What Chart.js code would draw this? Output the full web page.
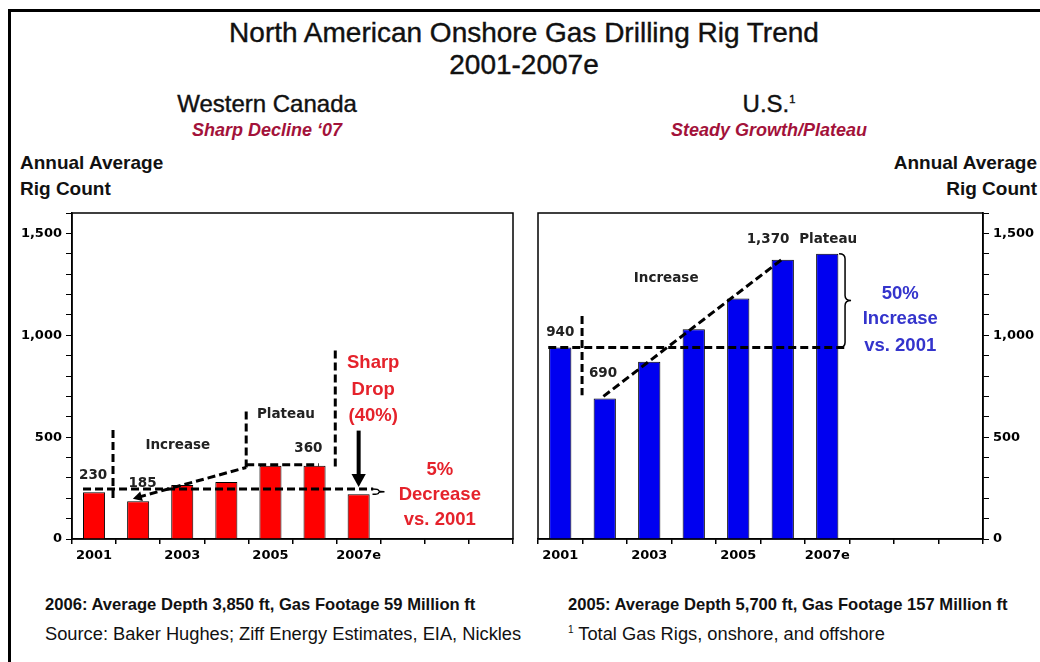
<!DOCTYPE html>
<html>
<head>
<meta charset="utf-8">
<script src="https://cdn.jsdelivr.net/npm/chart.js@4.4.0/dist/chart.umd.min.js"></script>
<style>
body { margin:0; background:#fff; width:1040px; height:662px; overflow:hidden; position:relative; font-family:"Liberation Sans", Arial, sans-serif; }
#frame { position:absolute; left:8px; top:9px; width:1040px; height:662px; border-left:3px solid #000; border-top:3px solid #000; box-shadow:-1px -1px 0 #999 inset; }
.t { position:absolute; white-space:nowrap; line-height:1; color:#111; }
.c { transform:translateX(-50%); }
.r { transform:translateX(-100%); }
.head { -webkit-text-stroke:0.4px #111; }
.sub { color:#a3123a; font-style:italic; font-weight:bold; font-size:18px; }
.axisname { font-weight:bold; font-size:19px; }
.foot { color:#111; }
#wrapL { position:absolute; left:0; top:200px; width:520px; height:380px; }
#wrapR { position:absolute; left:520px; top:200px; width:520px; height:380px; }
</style>
</head>
<body>
<div id="frame"></div>

<div class="t c head" style="left:524px;top:19px;font-size:28px;">North American Onshore Gas Drilling Rig Trend</div>
<div class="t c head" style="left:524px;top:51px;font-size:28px;">2001-2007e</div>

<div class="t c head" style="left:267px;top:92px;font-size:24px;">Western Canada</div>
<div class="t c sub" style="left:267px;top:121px;">Sharp Decline ‘07</div>
<div class="t c head" style="left:769px;top:92px;font-size:24px;">U.S.<sup style="font-size:11px">1</sup></div>
<div class="t c sub" style="left:769px;top:121px;">Steady Growth/Plateau</div>

<div class="t axisname" style="left:20px;top:153px;">Annual Average</div>
<div class="t axisname" style="left:20px;top:179px;">Rig Count</div>
<div class="t r axisname" style="left:1037px;top:153px;">Annual Average</div>
<div class="t r axisname" style="left:1037px;top:179px;">Rig Count</div>

<div id="wrapL"><canvas id="canadaChart" width="520" height="380"></canvas></div>
<div id="wrapR"><canvas id="usChart" width="520" height="380"></canvas></div>

<div class="t foot" style="left:45px;top:597px;font-size:16.6px;font-weight:bold;">2006: Average Depth 3,850 ft, Gas Footage 59 Million ft</div>
<div class="t foot" style="left:45px;top:625px;font-size:18.3px;">Source: Baker Hughes; Ziff Energy Estimates, EIA, Nickles</div>
<div class="t foot" style="left:568px;top:597px;font-size:16.6px;font-weight:bold;">2005: Average Depth 5,700 ft, Gas Footage 157 Million ft</div>
<div class="t foot" style="left:568px;top:625px;font-size:18.3px;"><sup style="font-size:10px">1</sup> Total Gas Rigs, onshore, and offshore</div>

<script>
// categories: 10 slots on the axis, only 7 are used
var years = ['2001', '2002', '2003', '2004', '2005', '2006', '2007e', '', '', ''];
var shownYears = ['2001', '2003', '2005', '2007e'];
var canadaRigs = [230, 185, 265, 280, 360, 360, 220];
var usRigs = [940, 690, 870, 1030, 1180, 1370, 1400];
var yTicks = [0, 500, 1000, 1500];

var tickFont = { family: 'DejaVu Sans', weight: 'bold', size: 13 };

function drawLine(ctx, pts, dashed, width) {
    ctx.save();
    ctx.strokeStyle = '#000';
    ctx.lineWidth = width;
    ctx.setLineDash(dashed ? [8, 4] : []);
    ctx.beginPath();
    ctx.moveTo(pts[0][0], pts[0][1]);
    for (var i = 1; i < pts.length; i++) ctx.lineTo(pts[i][0], pts[i][1]);
    ctx.stroke();
    ctx.restore();
}

function arrowHead(ctx, x, y, angle, size) {
    ctx.save();
    ctx.fillStyle = '#000';
    ctx.translate(x, y);
    ctx.rotate(angle);
    ctx.beginPath();
    ctx.moveTo(0, 0);
    ctx.lineTo(-size, -size * 0.55);
    ctx.lineTo(-size, size * 0.55);
    ctx.closePath();
    ctx.fill();
    ctx.restore();
}

function brace(ctx, x, yTop, yBot, w) {
    var mid = (yTop + yBot) / 2;
    var r = Math.min(5, (yBot - yTop) / 4);
    ctx.save();
    ctx.strokeStyle = '#000';
    ctx.lineWidth = 1.5;
    ctx.beginPath();
    ctx.moveTo(x - w / 2, yTop);
    ctx.quadraticCurveTo(x, yTop, x, yTop + r);
    ctx.lineTo(x, mid - r);
    ctx.quadraticCurveTo(x, mid, x + w / 2, mid);
    ctx.quadraticCurveTo(x, mid, x, mid + r);
    ctx.lineTo(x, yBot - r);
    ctx.quadraticCurveTo(x, yBot, x - w / 2, yBot);
    ctx.stroke();
    ctx.restore();
}

function label(ctx, text, x, y, font, color) {
    ctx.save();
    ctx.font = font;
    ctx.fillStyle = color;
    ctx.textAlign = 'center';
    ctx.textBaseline = 'middle';
    ctx.fillText(text, x, y);
    ctx.restore();
}

var numFont = 'bold 13.5px "DejaVu Sans"';
var noteFont = 'bold 13.5px "DejaVu Sans"';
var bigFont = 'bold 18.5px "Liberation Sans"';

// box around the plot area
var boxPlugin = {
    id: 'box',
    beforeDraw: function(chart) {
        var a = chart.chartArea, ctx = chart.ctx;
        ctx.save();
        ctx.strokeStyle = '#000';
        ctx.lineWidth = 1.5;
        ctx.strokeRect(a.left, a.top, a.right - a.left, a.bottom - a.top);
        ctx.restore();
    }
};

var canadaNotes = {
    id: 'canadaNotes',
    afterDatasetsDraw: function(chart) {
        var ctx = chart.ctx;
        var X = function(i) { return chart.scales.x.getPixelForValue(i); };
        var Y = function(v) { return chart.scales.y.getPixelForValue(v); };
        drawLine(ctx, [[X(-0.25), Y(245)], [X(6.33), Y(245)]], true, 3);
        drawLine(ctx, [[X(0.43), Y(535)], [X(0.43), Y(200)]], true, 3);
        drawLine(ctx, [[X(1.0), Y(205)], [X(3.45), Y(351)]], true, 3);
        arrowHead(ctx, X(0.88), Y(198), Math.atan2(Y(198) - Y(351), X(0.88) - X(3.45)), 9);
        drawLine(ctx, [[X(3.45), Y(351)], [X(3.45), Y(630)]], true, 3);
        drawLine(ctx, [[X(3.45), Y(365)], [X(5.1), Y(365)]], true, 3);
        drawLine(ctx, [[X(5.47), Y(925)], [X(5.47), Y(351)]], true, 3);
        drawLine(ctx, [[X(6.0), Y(532)], [X(6.0), Y(285)]], false, 4);
        arrowHead(ctx, X(6.0), Y(255), Math.PI / 2, 13);
        brace(ctx, X(6.45), Y(245), Y(220), 12);

        label(ctx, canadaRigs[0], X(-0.02), Y(312), numFont, '#222');
        label(ctx, canadaRigs[1], X(1.1), Y(273), numFont, '#222');
        label(ctx, 'Increase', X(1.9), Y(459), noteFont, '#222');
        label(ctx, 'Plateau', X(4.35), Y(610), noteFont, '#222');
        label(ctx, canadaRigs[5], X(4.86), Y(444), numFont, '#222');
        label(ctx, 'Sharp', X(6.33), Y(863), bigFont, '#e5222b');
        label(ctx, 'Drop', X(6.33), Y(730), bigFont, '#e5222b');
        label(ctx, '(40%)', X(6.33), Y(605), bigFont, '#e5222b');
        label(ctx, '5%', X(7.84), Y(337), bigFont, '#e5222b');
        label(ctx, 'Decrease', X(7.84), Y(215), bigFont, '#e5222b');
        label(ctx, 'vs. 2001', X(7.84), Y(93), bigFont, '#e5222b');
    }
};

var usNotes = {
    id: 'usNotes',
    afterDatasetsDraw: function(chart) {
        var ctx = chart.ctx;
        var X = function(i) { return chart.scales.x.getPixelForValue(i); };
        var Y = function(v) { return chart.scales.y.getPixelForValue(v); };
        drawLine(ctx, [[X(-0.27), Y(940)], [X(6.42), Y(940)]], true, 3);
        drawLine(ctx, [[X(0.49), Y(1095)], [X(0.49), Y(705)]], true, 3);
        drawLine(ctx, [[X(0.97), Y(700)], [X(4.98), Y(1372)]], true, 3);
        brace(ctx, X(6.4), Y(1400), Y(940), 12);

        label(ctx, usRigs[0], X(0), Y(1012), numFont, '#222');
        label(ctx, usRigs[1], X(0.96), Y(810), numFont, '#222');
        label(ctx, 'Increase', X(2.38), Y(1280), noteFont, '#222');
        label(ctx, usRigs[5].toLocaleString('en-US'), X(4.67), Y(1470), numFont, '#222');
        label(ctx, 'Plateau', X(6.02), Y(1470), noteFont, '#222');
        label(ctx, '50%', X(7.64), Y(1205), bigFont, '#3434cc');
        label(ctx, 'Increase', X(7.64), Y(1080), bigFont, '#3434cc');
        label(ctx, 'vs. 2001', X(7.64), Y(950), bigFont, '#3434cc');
    }
};

function makeChart(canvasId, values, color, side, yWidth, pad, notes) {
    return new Chart(document.getElementById(canvasId).getContext('2d'), {
        type: 'bar',
        data: {
            labels: years,
            datasets: [{
                data: values,
                backgroundColor: color,
                borderColor: '#000',
                borderWidth: 1,
                barPercentage: 0.5,
                categoryPercentage: 1
            }]
        },
        options: {
            responsive: false,
            animation: false,
            layout: { padding: pad },
            plugins: { legend: { display: false }, tooltip: { enabled: false } },
            scales: {
                x: {
                    offset: true,
                    grid: { offset: true, drawOnChartArea: false, tickLength: 5, color: '#000', lineWidth: 1.5 },
                    border: { color: '#000', width: 1.5 },
                    ticks: {
                        autoSkip: false, maxRotation: 0, color: '#000', font: tickFont, padding: 4,
                        callback: function(v, i) { return shownYears.indexOf(years[i]) >= 0 ? years[i] : ''; }
                    },
                    afterFit: function(s) { s.height = 41; }
                },
                y: {
                    position: side,
                    min: 0,
                    max: 1600,
                    grid: { drawOnChartArea: false, tickLength: 6, color: '#000', lineWidth: 1 },
                    border: { color: '#000', width: 1.5 },
                    ticks: {
                        stepSize: 100, autoSkip: false, color: '#000', font: tickFont, padding: 4,
                        callback: function(v) { return yTicks.indexOf(v) >= 0 ? v.toLocaleString('en-US') : ''; }
                    },
                    afterFit: function(s) { s.width = yWidth; }
                }
            }
        },
        plugins: [boxPlugin, notes]
    });
}

var canadaChart = makeChart('canadaChart', canadaRigs, '#ff0000', 'left', 72, { top: 13, right: 7, left: 0, bottom: 0 }, canadaNotes);
var usChart = makeChart('usChart', usRigs, '#0000f0', 'right', 57, { top: 13, right: 0, left: 18, bottom: 0 }, usNotes);
</script>
</body>
</html>
